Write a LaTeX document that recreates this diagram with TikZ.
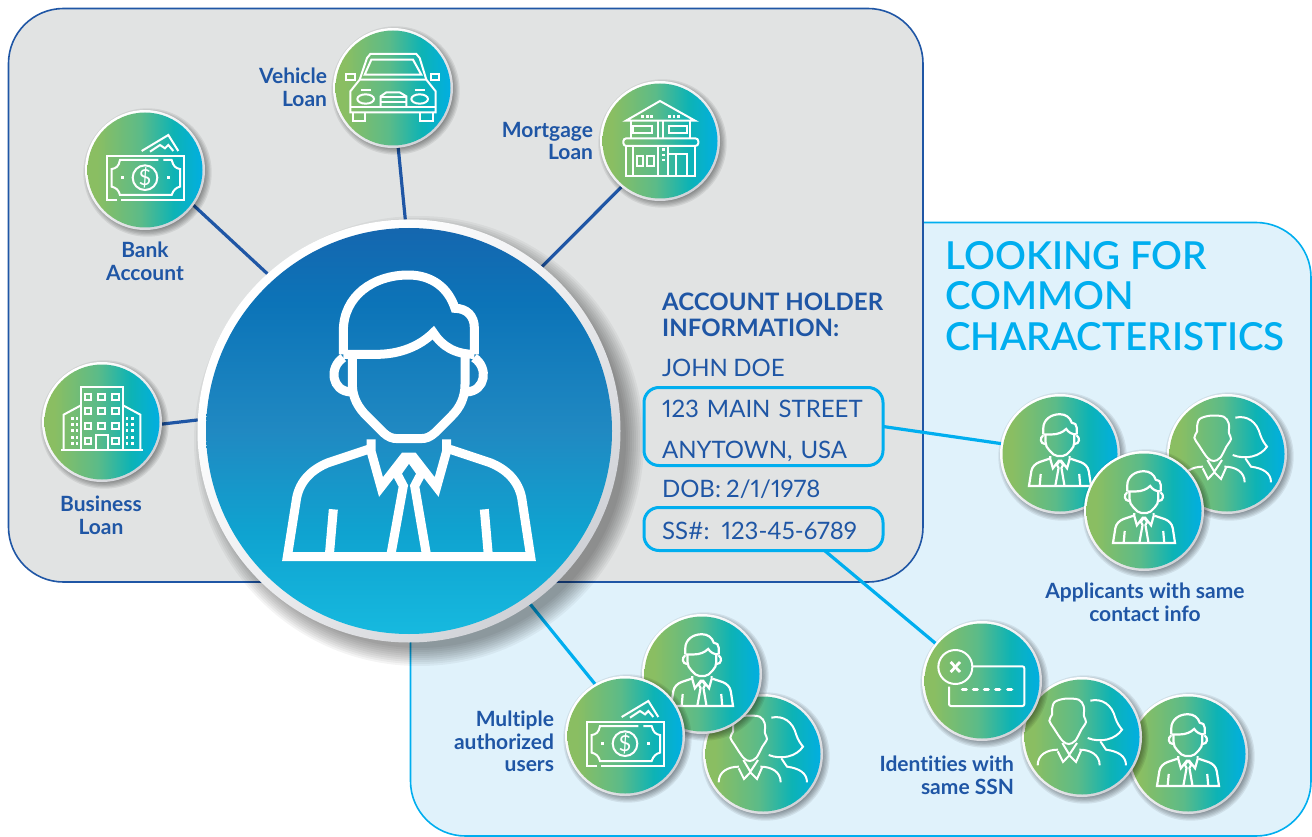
\documentclass[tikz,border=0pt]{standalone}
\usepackage{fontspec}
\setmainfont[Ligatures=NoCommon]{Lato}
\newfontfamily\infofam[Numbers=Proportional,WordSpace=0.85,Ligatures=NoCommon]{Lato}
\newfontfamily\medfam[Ligatures=NoCommon]{Lato Semibold}
\definecolor{navy}{HTML}{1F56A5}
\definecolor{cyanline}{HTML}{00AEEF}
\definecolor{panelgray}{HTML}{E1E3E3}
\definecolor{panelblue}{HTML}{E0F2FB}
\definecolor{gA}{HTML}{8ABE62}
\definecolor{gB}{HTML}{5CBB88}
\definecolor{gC}{HTML}{0DB3B5}
\definecolor{gD}{HTML}{00AEE5}
\definecolor{bA}{HTML}{17BBE0}
\definecolor{bB}{HTML}{0FA3D0}
\definecolor{bC}{HTML}{2089C2}
\definecolor{bD}{HTML}{0C74B8}
\definecolor{bE}{HTML}{1665AE}
\definecolor{rimA}{HTML}{FFFFFF}
\definecolor{rimB}{HTML}{EDEEF0}
\definecolor{rimC}{HTML}{CFD1D6}
\pgfdeclarehorizontalshading{badgegrad}{100bp}{color(0bp)=(gA);color(30bp)=(gA);color(48bp)=(gB);color(62bp)=(gC);color(75bp)=(gD);color(100bp)=(gD)}
\pgfdeclareverticalshading{bigfill}{100bp}{color(0bp)=(bA);color(25bp)=(bA);color(38bp)=(bB);color(50bp)=(bC);color(65bp)=(bD);color(75bp)=(bE);color(100bp)=(bE)}
\pgfdeclarehorizontalshading{rimgrad}{100bp}{color(0bp)=(rimA);color(30bp)=(rimA);color(50bp)=(rimB);color(75bp)=(rimC);color(100bp)=(rimC)}
\pgfdeclarelayer{panels}
\pgfdeclarelayer{links}
\pgfsetlayers{panels,links,main}
\newcommand\lblfont{\bfseries\fontsize{21}{22.5}\selectfont}
\newcommand\headfont{\bfseries\fontsize{24}{26}\selectfont}
\newcommand\infofont{\infofam\fontsize{24}{41.5}\selectfont}
\newcommand\bigfont{\medfam\fontsize{38.5}{40.5}\selectfont}
\tikzset{
  badge/.style={circle,minimum size=120pt,inner sep=0pt,outer sep=0pt,shading=rimgrad,shading angle=-45,
    path picture={\shade[shading=badgegrad,shading angle=0] (path picture bounding box.center) circle [radius=57.5pt];}},
  bigbadge/.style={circle,minimum size=423pt,inner sep=0pt,outer sep=0pt,shading=rimgrad,shading angle=-45,
    path picture={\shade[shading=bigfill,shading angle=0] (path picture bounding box.center) circle [radius=203pt];}},
  lbl/.style={font=\lblfont,text=navy,inner sep=0pt,outer sep=0pt},
  infotext/.style={font=\infofont,text=navy,inner sep=0pt,outer sep=0pt,anchor=base west},
  infobox/.style={draw=cyanline,line width=3pt,rounded corners=15pt,inner sep=0pt,
    font=\infofont,text=navy,align=left,outer sep=0pt,text width=239pt},
  navylink/.style={draw=navy,line width=3.2pt},
  cyanlink/.style={draw=cyanline,line width=3.2pt},
  ic/.style={draw=white,line width=#1,line cap=butt,line join=miter},
}
% soft shadow under a disc
\newcommand\softshadow[5]{% x y r offset step
  \foreach \d in {4,3,2,1,0,-1}{
    \fill[black,opacity=.075] ({#1+#4},{#2+#4}) circle [radius={(#3+\d*#5)*1pt}];}}
\newcommand\badgeat[3]{\softshadow{#2}{#3}{59}{2.5}{1.3}\node[badge] (#1) at (#2,#3) {};}
% man with tie: coordinates from the large emblem
\newcommand\manicon[4]{\begin{scope}[shift={(#1,#2)},scale=#3,shift={(-627,-630)},ic=#4]
  \draw (430,400) -- (430,330) .. controls (430,225) and (520,162) .. (625,162) .. controls (695,162) and (745,200) .. (765,262) .. controls (800,262) and (823,285) .. (823,320) -- (823,400);
  \draw (430,400) -- (530,400) .. controls (600,400) and (660,375) .. (700,335) .. controls (725,375) and (765,400) .. (823,400);
  \draw (457,400) -- (457,490) .. controls (457,530) and (475,560) .. (500,585) -- (550,635) .. controls (565,648) and (575,653) .. (595,653) -- (660,653) .. controls (680,653) and (690,648) .. (705,635) -- (755,585) .. controls (780,560) and (795,530) .. (795,490) -- (795,400);
  \draw (430,410) .. controls (385,440) and (395,510) .. (452,513);
  \draw (822,410) .. controls (867,440) and (857,510) .. (800,513);
  \draw (513,655) -- (513,690) -- (543,798) -- (613,708) -- (640,708) -- (710,798) -- (740,690) -- (740,655);
  \draw (505,685) -- (385,725) .. controls (335,745) and (300,780) .. (290,830) -- (262,1007) -- (992,1007) -- (965,830) .. controls (955,780) and (920,745) .. (870,725) -- (750,685);
  \draw (622,712) -- (590,757) -- (610,795) -- (572,1005);
  \draw (632,712) -- (664,757) -- (644,795) -- (680,1005);
  \draw (400,865) -- (388,1003);
  \draw (853,865) -- (865,1003);
\end{scope}}
% banknote
\newcommand\moneyicon[3]{\begin{scope}[shift={(#1,#2)},scale=1/3,shift={(-345,-450)},ic=2pt]
  \draw (262,541) -- (230,541) -- (230,407) -- (463,407) -- (463,541) -- (272,541);
  \draw (385,420) -- (270,420) .. controls (266,440) and (258,445) .. (245,447) -- (245,500) .. controls (258,503) and (266,510) .. (270,525) -- (425,525) .. controls (430,510) and (438,503) .. (450,500) -- (450,447) .. controls (438,445) and (430,440) .. (425,420) -- (400,420);
  \draw (345,473) circle [radius=37];
  \draw (335,393) -- (415,345) -- (445,393);
  \draw (360,395) -- (390,375) -- (405,385) -- (415,375) -- (430,393);
  \fill[white] (272,468) rectangle (282,478);
  \fill[white] (410,468) rectangle (420,478);
  \node[inner sep=0pt,text=white,font=\fontsize{22}{22}\selectfont] (#3) at (345,473) {\$};
\end{scope}}
% couple
\newcommand\coupleicon[2]{\begin{scope}[shift={(#1,#2)},scale=1/3,shift={(-500,-367)},ic=2pt]
  \draw plot[smooth cycle,tension=.55] coordinates {(441,378) (460,388) (480,378) (498,345) (512,322) (506,305) (505,275) (490,255) (450,252) (418,262) (410,285) (410,300) (402,318) (415,340)};
  \draw (367,452) .. controls (367,420) and (395,405) .. (428,405);
  \draw (492,405) .. controls (525,405) and (553,420) .. (553,452);
  \draw (441,385) -- (462,420) -- (485,385);
  \draw (427,410) -- (443,442) -- (462,422) -- (482,442) -- (497,408);
  \draw (525,258) .. controls (560,250) and (590,270) .. (600,310) .. controls (605,325) and (612,335) .. (620,345) .. controls (600,375) and (555,385) .. (517,370);
  \draw (555,380) -- (572,405) .. controls (610,410) and (632,425) .. (632,452);
\end{scope}}
\begin{document}
\begin{tikzpicture}[x=1pt,y=-1pt]
\useasboundingbox (0,0) rectangle (1312,837);
\begin{pgfonlayer}{panels}
  \fill[white] (0,0) rectangle (1312,837);
  \draw[fill=panelblue,draw=cyanline,line width=1.6pt,rounded corners=55pt] (410.5,222.5) rectangle (1311,836);
  \draw[fill=panelgray,draw=navy,line width=1.6pt,rounded corners=55pt] (8.5,8.5) rectangle (923,582);
\end{pgfonlayer}

% central emblem
\foreach \d in {14,12,10,8,6,4,2,0,-2,-4}{
  \fill[black,opacity=.045] (419,441) circle [radius={(211+\d)*1pt}];}
\node[bigbadge] (big) at (409,431) {};
\manicon{409}{431}{1/3}{9pt}

% left panel badges
\badgeat{vehicle}{393}{88}
\badgeat{bank}{145}{170}
\badgeat{mortgage}{660}{141}
\badgeat{business}{102}{422}

% car
\begin{scope}[shift={(393,88)},scale=1/3,shift={(-1090,-205)},ic=2pt]
  \draw (990,180) -- (1012,115) -- (1022,103) -- (1160,103) -- (1170,115) -- (1190,180);
  \draw (1005,165) -- (1025,120) -- (1150,120) -- (1175,165) -- cycle;
  \draw (990,180) -- (1190,180) -- (1218,215) -- (1218,278) -- (962,278) -- (962,215) -- cycle;
  \draw (950,163) rectangle (975,180);
  \draw (1203,163) rectangle (1228,180);
  \draw (1008,238) ellipse [x radius=25,y radius=14];
  \draw (1170,238) ellipse [x radius=25,y radius=14];
  \draw (995,210) -- (1025,210);
  \draw (1155,210) -- (1185,210);
  \draw (1053,262) -- (1053,230) -- (1070,218) -- (1110,218) -- (1130,230) -- (1130,262);
  \draw (1053,232) -- (1130,232);
  \draw (1053,247) -- (1130,247);
  \draw (962,262) -- (1218,262);
  \draw (970,278) -- (970,305) -- (1005,305) -- (1005,278);
  \draw (1172,278) -- (1172,305) -- (1210,305) -- (1210,278);
\end{scope}
% money (bank)
\moneyicon{145}{170}{bankdollar}
% house
\begin{scope}[shift={(660,141)},scale=1/3,shift={(-210,-213)},ic=2pt]
  \draw (108,152) -- (210,93) -- (315,152) -- cycle;
  \foreach \x in {158,172,184,238,252,266}{\fill[white] (\x-4,136) rectangle (\x+4,144);}
  \draw (122,152) -- (122,205);
  \draw (300,152) -- (300,205);
  \draw (205,152) -- (205,205);
  \draw (220,152) -- (220,205);
  \draw (130,168) rectangle (185,190);
  \draw (237,168) rectangle (292,190);
  \draw[rounded corners=3pt] (100,205) rectangle (325,228);
  \draw (108,228) -- (108,318) -- (315,318) -- (315,228);
  \draw (130,228) -- (130,318);
  \draw (205,228) -- (205,318);
  \draw (235,228) -- (235,318);
  \draw (140,258) rectangle (160,288);
  \draw (170,258) rectangle (192,288);
  \foreach \y in {238,255,270}{\fill[white] (215,\y-4) rectangle (225,\y+4);}
  \draw (235,253) -- (295,253);
  \draw (258,253) -- (258,318);
  \draw (290,253) -- (290,318);
\end{scope}
% office building
\begin{scope}[shift={(102,422)},scale=1/3,shift={(-215,-215)},ic=2pt]
  \draw (152,300) -- (152,110) -- (278,110) -- (278,300);
  \draw (92,300) -- (338,300);
  \draw (152,165) -- (100,193) -- (100,300);
  \draw (278,165) -- (330,193) -- (330,300);
  \foreach \x in {173,213,255}{\foreach \y in {140,182,228}{\draw (\x-10,\y-9) rectangle (\x+10,\y+9);}}
  \draw (163,263) rectangle (183,282);
  \draw (245,263) rectangle (265,282);
  \draw (198,300) -- (198,255) -- (232,255) -- (232,300);
  \foreach \y in {205,222,240,262,280}{
    \fill[white] (122,\y-4) rectangle (130,\y+4);
    \fill[white] (136,\y-4) rectangle (144,\y+4);
    \fill[white] (286,\y-4) rectangle (294,\y+4);
    \fill[white] (302,\y-4) rectangle (310,\y+4);}
\end{scope}

% right cluster: same contact info
\badgeat{apA}{1060}{454}
\manicon{1060}{454}{.085}{2.2pt}
\badgeat{apC}{1227}{454}
\coupleicon{1227}{454}
\badgeat{apB}{1144}{511}
\manicon{1144}{511}{.085}{2.2pt}

% bottom cluster: authorized users
\badgeat{muC}{763}{754}
\coupleicon{763}{754}
\badgeat{muB}{702}{674}
\manicon{702}{674}{.085}{2.2pt}
\badgeat{muA}{625}{736}
\moneyicon{625}{736}{mudollar}

% SSN cluster
\badgeat{ssC}{1188}{754}
\manicon{1188}{754}{.085}{2.2pt}
\badgeat{ssB}{1082}{737}
\coupleicon{1082}{737}
\badgeat{ssA}{982}{681}
\begin{scope}[shift={(982,681)},scale=1/3,shift={(-200,-197)},ic=2pt]
  \draw (120,155) circle [radius=51];
  \draw[line width=2.8pt] (106,140) -- (134,170);
  \draw[line width=2.8pt] (134,140) -- (106,170);
  \draw[rounded corners=2pt] (172,153) -- (327,153) -- (327,272) -- (101,272) -- (101,214);
  \foreach \x in {147,180,213,247,283}{\draw[line width=3.2pt,line cap=round] (\x-6,222) -- (\x+6,222);}
\end{scope}

% texts
\node[lbl,align=right,anchor=north east] (tVeh) at (327,68) {Vehicle\\Loan};
\node[lbl,align=center,anchor=north] (tBank) at (145,242) {Bank\\Account};
\node[lbl,align=right,anchor=north east] (tMort) at (593,122) {Mortgage\\Loan};
\node[lbl,align=center,anchor=north] (tBus) at (101,496) {Business\\Loan};
\node[lbl,align=right,anchor=north east] (tMulti) at (554,711) {Multiple\\authorized\\users};
\node[lbl,align=right,anchor=north east] (tIdent) at (1014,756) {Identities with\\same SSN};
\node[lbl,align=center,anchor=north] (tAppl) at (1145,583) {Applicants with same\\contact info};
\node[font=\bigfont,text=cyanline,align=left,anchor=north west,inner sep=0pt] (tLook) at (945,241) {LOOKING FOR\\COMMON\\CHARACTERISTICS};
\node[font=\headfont,text=navy,align=left,anchor=north west,inner sep=0pt] (tHead) at (662,292.5) {ACCOUNT HOLDER\\INFORMATION:};
\node[infotext] (tJohn) at (662,376) {JOHN DOE};
\node[infotext] (tDob) at (662,497) {DOB: 2/1/1978};
\node[infobox,minimum height=78pt] (addr) at (763.5,426.5) {\hspace*{18pt}\rule{0pt}{26pt}123 MAIN STREET\\\hspace*{18pt}ANYTOWN, USA};
\node[infobox,minimum height=43pt] (ssn) at (763.5,529) {\hspace*{18pt}\rule{0pt}{22pt}SS\#: 123-45-6789};

% connectors
\begin{pgfonlayer}{links}
  \draw[navylink] (vehicle.-85) -- (big.91);
  \draw[navylink] (bank.-36) -- (big.132);
  \draw[navylink] (mortgage.230) -- (big.51);
  \draw[navylink] (business.-2) -- (big.177);
  \draw[cyanlink] (big.-55) -- (muA.120);
\end{pgfonlayer}
\draw[cyanlink] (addr.east) -- (apA.170);
\draw[cyanlink] ([xshift=61pt]ssn.south) -- (ssA.141);
\end{tikzpicture}
\end{document}
